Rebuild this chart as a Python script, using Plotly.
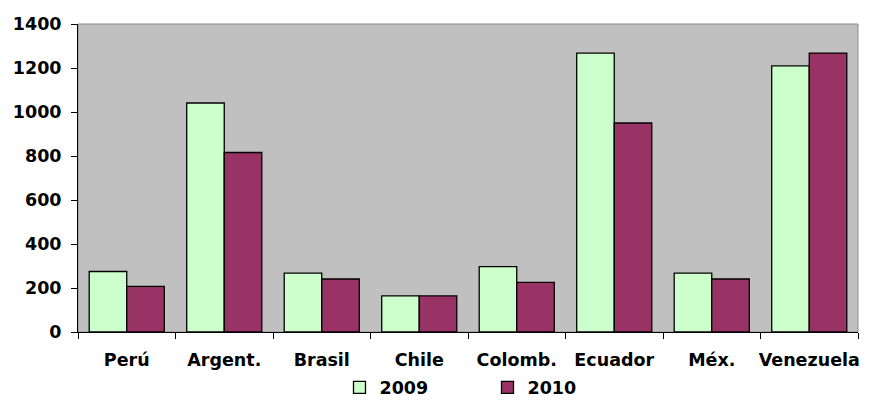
import plotly.graph_objects as go

categories = ["Perú", "Argent.", "Brasil", "Chile", "Colomb.", "Ecuador", "Méx.", "Venezuela"]
values_2009 = [275, 1041, 268, 164, 297, 1268, 268, 1210]
values_2010 = [207, 816, 241, 164, 226, 950, 241, 1268]
y_ticks = [0, 200, 400, 600, 800, 1000, 1200, 1400]

font_family = "DejaVu Sans, Liberation Sans, Arial, sans-serif"
bold_font = dict(family=font_family, size=17.5, color="black", weight="bold")

fig = go.Figure()
fig.add_trace(go.Bar(name="2009", x=categories, y=values_2009,
                     marker=dict(color="#CCFFCC", line=dict(color="black", width=1.3))))
fig.add_trace(go.Bar(name="2010", x=categories, y=values_2010,
                     marker=dict(color="#993366", line=dict(color="black", width=1.3))))

fig.update_layout(
    width=861, height=393,
    margin=dict(l=70, r=11, t=16, b=69, autoexpand=False),
    paper_bgcolor="white",
    plot_bgcolor="#C0C0C0",
    barmode="group",
    bargap=0.23,
    bargroupgap=0,
    font=bold_font,
    showlegend=True,
    legend=dict(orientation="h", x=0.525, xanchor="center", y=-0.18, yanchor="middle",
                font=bold_font, entrywidth=103, itemwidth=30, bgcolor="rgba(0,0,0,0)"),
    shapes=[dict(type="rect", xref="paper", yref="paper", x0=0, y0=0, x1=1, y1=1,
                 line=dict(color="#8C8C8C", width=1), layer="below")],
)
fig.update_xaxes(
    automargin=False, tickangle=0,
    showline=True, linecolor="black", linewidth=1,
    ticks="outside", tickson="boundaries", ticklen=6, tickcolor="black",
    tickfont=bold_font, ticklabelstandoff=12,
    showgrid=False,
)
fig.update_yaxes(
    automargin=False,
    range=[0, 1400], tickvals=y_ticks,
    showline=True, linecolor="black", linewidth=1,
    ticks="outside", ticklen=6, tickcolor="black",
    tickfont=bold_font, ticklabelstandoff=6,
    showgrid=False, zeroline=False,
)

fig.write_html("out.html")
